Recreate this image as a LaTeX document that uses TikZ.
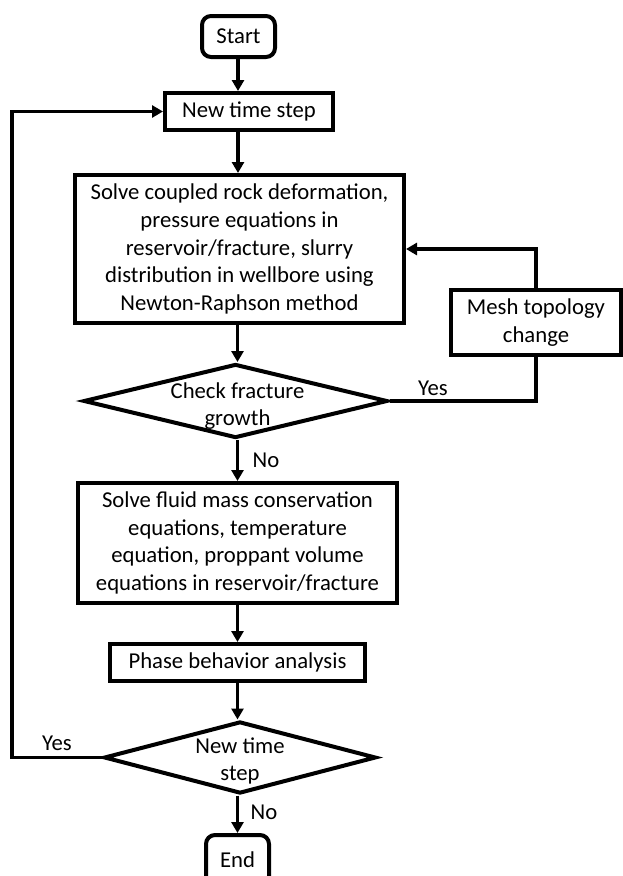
\documentclass[tikz,border=0pt]{standalone}
\usepackage{fontspec}
\setmainfont{Carlito}
\usetikzlibrary{shapes.geometric,arrows.meta}
\begin{document}
\begin{tikzpicture}[x=1pt,y=-1pt,
  every node/.style={font=\fontsize{22.7}{27.7}\selectfont, text=black},
  box/.style={draw, line width=4pt, align=center, inner sep=0pt},
  term/.style={box, rounded corners=9pt},
  dec/.style={draw, diamond, line width=4pt, inner sep=0pt},
  txt/.style={align=center, inner sep=0pt},
  arr/.style={line width=3.8pt, -{Triangle[length=11pt,width=12pt]}},
  plain/.style={line width=3.8pt},
  lbl/.style={inner sep=0pt}]
\clip (0,0) rectangle (623,876);
\fill[white] (0,0) rectangle (623,876);

% nodes
\node[term, minimum width=73pt, minimum height=41pt] (start) at (238.5,36.5) {Start};
\node[box, minimum width=168pt, minimum height=37pt] (new) at (249,111.5) {New time step};
\node[box, minimum width=329pt, minimum height=148pt] (solve1) at (239.5,249)
  {Solve coupled rock deformation,\\pressure equations in\\reservoir/fracture, slurry\\distribution in wellbore using\\Newton-Raphson method};
\node[box, minimum width=170pt, minimum height=65pt] (mesh) at (536,322.5) {Mesh topology\\change};
\node[dec, minimum width=304pt, minimum height=74pt] (check) at (235.5,401) {};
\node[txt] (checkt) at (237.5,406) {Check fracture\\growth};
\node[box, minimum width=319pt, minimum height=120pt] (solve2) at (237.5,543)
  {Solve fluid mass conservation\\equations, temperature\\equation, proppant volume\\equations in reservoir/fracture};
\node[box, minimum width=255pt, minimum height=37pt] (phase) at (237.5,662.5) {Phase behavior analysis};
\node[dec, minimum width=272pt, minimum height=72pt] (nts) at (240,757.5) {};
\node[txt] (ntst) at (240,761) {New time\\step};
\node[term, minimum width=63pt, minimum height=50pt] (end) at (237.5,860) {End};

\coordinate (loopx) at (12,0);

% connectors
\draw[arr] (start.south -| 238,0) -- (new.north -| 238,0);
\draw[arr] (new.south -| 238,0) -- (solve1.north -| 238,0);
\draw[arr] (solve1.south -| 237.5,0) -- (check.north -| 237.5,0);
\draw[arr] (check.south -| 237.5,0) -- (solve2.north -| 237.5,0);
\draw[plain] (check.east) -| (mesh.south);
\draw[arr] (mesh.north) |- (solve1.east);
\draw[arr] (solve2.south -| phase.north) -- (phase.north);
\draw[arr] (phase.south) -- (nts.north -| phase.south);
\draw[arr] (nts.south -| end.north) -- (end.north);
\draw[arr] (nts.west) -- (nts.west -| loopx) |- (new.west);

% labels
\node[lbl] (yes1) at (433,388) {Yes};
\node[lbl] (no1) at (266,460) {No};
\node[lbl] (yes2) at (57,743) {Yes};
\node[lbl] (no2) at (264,812) {No};
\end{tikzpicture}
\end{document}
